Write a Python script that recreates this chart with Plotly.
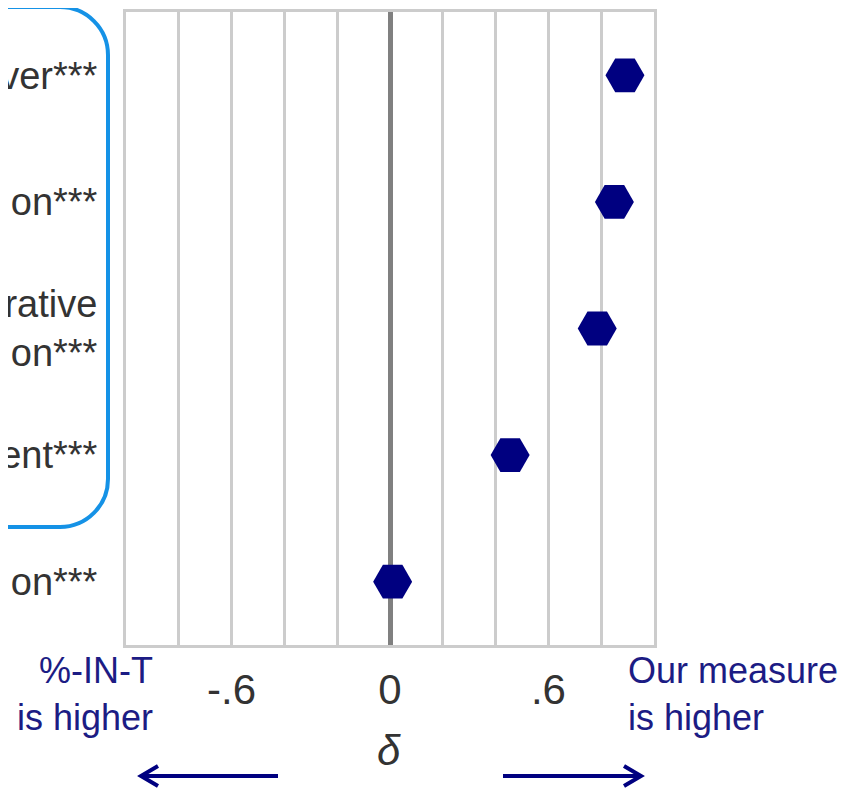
import plotly.graph_objects as go

# ---- data ----
categories = ["ver***", "on***", "rative<br>on***", "ent***", "on***"]
positions = [4, 3, 2, 1, 0]
delta = [0.89, 0.85, 0.785, 0.455, 0.01]
x_tick_vals = [-0.8, -0.6, -0.4, -0.2, 0, 0.2, 0.4, 0.6, 0.8]
x_tick_text = ["", "-.6", "", "", "0", "", "", ".6", ""]
left_note = "%-IN-T<br>is higher"
right_note = "Our measure<br>is higher"
axis_label = "<i>δ</i>"

# ---- layout geometry (page has an 8px body margin) ----
OFF = 8
W, H = 848 - OFF, 791 - OFF
L, R, T, B = 126 - OFF, 194, 12 - OFF, 146
PW, PH = W - L - R, H - T - B

def px(x):
    return (x - OFF - L) / PW

def py(y):
    return (H - B - (y - OFF)) / PH

NAVY = "#000080"
TEXTNAVY = "#1c1c84"
GRID = "#cccccc"
FONT = "Liberation Sans, Arial, sans-serif"

fig = go.Figure()
fig.add_trace(go.Scatter(
    x=delta, y=positions, mode="markers",
    marker=dict(symbol="hexagon2", size=39, color=NAVY, line=dict(width=0)),
    showlegend=False, cliponaxis=False, hoverinfo="skip"))

fig.update_layout(
    width=W, height=H,
    margin=dict(l=L, r=R, t=T, b=B, autoexpand=False),
    plot_bgcolor="white", paper_bgcolor="white",
    font=dict(family=FONT, color="#333333"),
    showlegend=False,
)
fig.update_xaxes(
    range=[-1, 1], tickmode="array", tickvals=x_tick_vals, ticktext=x_tick_text,
    showgrid=True, gridcolor=GRID, gridwidth=3,
    zeroline=True, zerolinecolor="#808080", zerolinewidth=5,
    showline=True, mirror=True, linecolor=GRID, linewidth=3,
    ticks="", tickfont=dict(size=42, color="#333333"), ticklabelstandoff=6,
    fixedrange=True,
)
fig.update_yaxes(
    range=[-0.5, 4.5], tickmode="array", tickvals=positions, ticktext=categories,
    showgrid=False, zeroline=False,
    showline=True, mirror=True, linecolor=GRID, linewidth=3,
    ticks="", tickfont=dict(size=38, color="#333333"), ticklabelstandoff=18,
    fixedrange=True,
)

# rounded blue box around the upper labels
x0, x1, y0, y1, r = -80, 108, 7, 527, 48
k = 0.5523 * r
path = (
    f"M {px(x0)},{py(y0)} L {px(x1 - r)},{py(y0)} "
    f"C {px(x1 - r + k)},{py(y0)} {px(x1)},{py(y0 + r - k)} {px(x1)},{py(y0 + r)} "
    f"L {px(x1)},{py(y1 - r)} "
    f"C {px(x1)},{py(y1 - r + k)} {px(x1 - r + k)},{py(y1)} {px(x1 - r)},{py(y1)} "
    f"L {px(x0)},{py(y1)}"
)
fig.add_shape(type="path", xref="paper", yref="paper", path=path,
              line=dict(color="#1592e6", width=4), layer="above")

# arrows
ay = 776
for (xa, xb, xh) in [(278, 141, 158), (503, 641, 624)]:
    fig.add_shape(type="line", xref="paper", yref="paper",
                  x0=px(xa), x1=px(xb), y0=py(ay), y1=py(ay),
                  line=dict(color=NAVY, width=4))
    fig.add_shape(type="path", xref="paper", yref="paper",
                  path=f"M {px(xh)},{py(ay - 10)} L {px(xb)},{py(ay)} L {px(xh)},{py(ay + 10)}",
                  line=dict(color=NAVY, width=4))

fig.add_annotation(xref="paper", yref="paper", x=px(155), y=py(694),
                   xanchor="right", yanchor="middle", align="right",
                   text=left_note, showarrow=False,
                   font=dict(size=36, color=TEXTNAVY, family=FONT))
fig.add_annotation(xref="paper", yref="paper", x=px(626), y=py(694),
                   xanchor="left", yanchor="middle", align="left",
                   text=right_note, showarrow=False,
                   font=dict(size=36, color=TEXTNAVY, family=FONT))
fig.add_annotation(xref="paper", yref="paper", x=px(389), y=py(751),
                   xanchor="center", yanchor="middle",
                   text=axis_label, showarrow=False,
                   font=dict(size=42, color="#333333", family=FONT))

fig.write_html("out.html")
